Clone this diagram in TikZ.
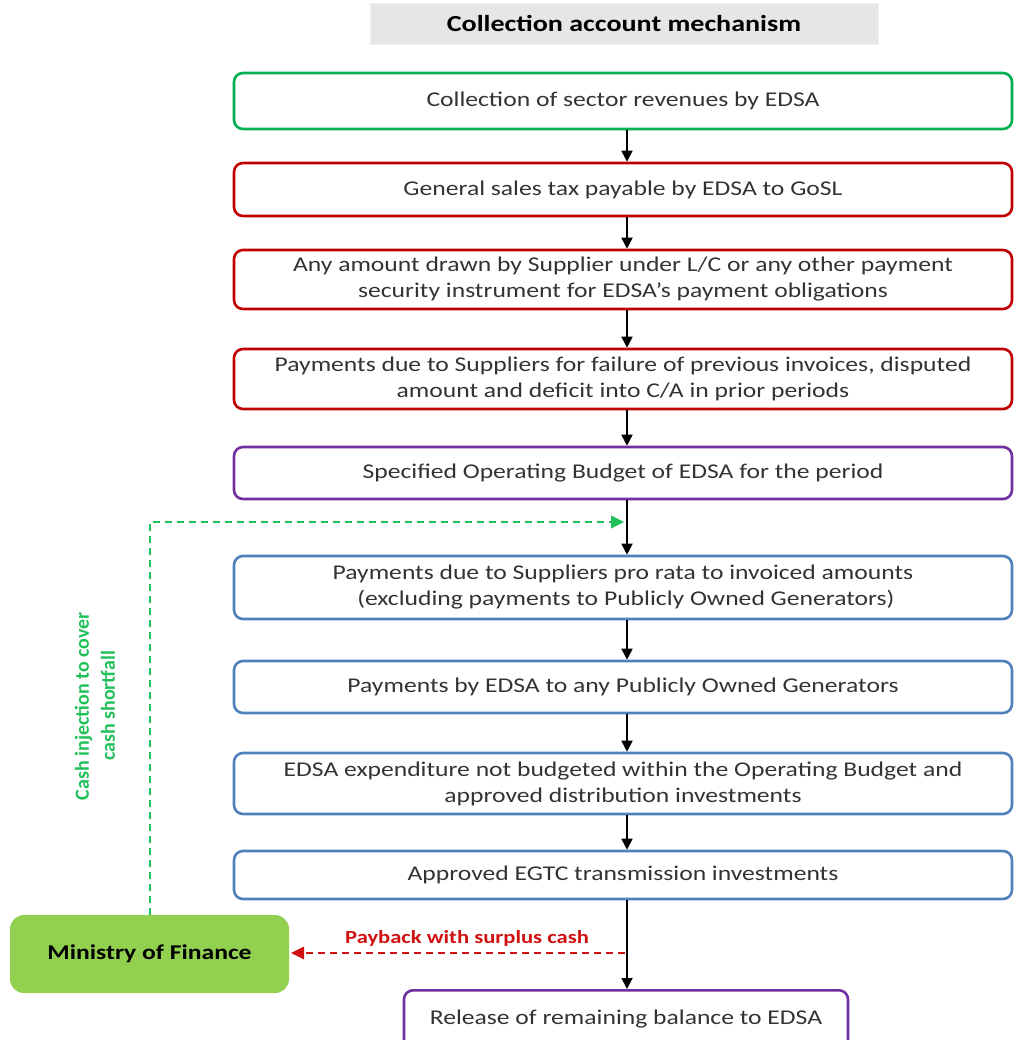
\documentclass[tikz,border=0pt]{standalone}
\usepackage{fontspec}
\setmainfont{Carlito}[FakeStretch=1.22]
\newfontfamily\plainfont{Carlito}
\usetikzlibrary{arrows.meta}
\definecolor{txt}{HTML}{333333}
\definecolor{cgreen}{HTML}{00B050}
\definecolor{cred}{HTML}{C00000}
\definecolor{cpurple}{HTML}{7030A0}
\definecolor{cblue}{HTML}{4F81BD}
\definecolor{mof}{HTML}{92D050}
\definecolor{ttl}{HTML}{E6E6E6}
\definecolor{dgreen}{HTML}{22C05A}
\definecolor{dred}{HTML}{D01010}
\begin{document}
\begin{tikzpicture}[x=1pt,y=-1pt,
  box/.style={draw, line width=2.6pt, rounded corners=9pt, align=center, text=txt,
    font=\fontsize{21}{26}\selectfont, inner sep=0pt, minimum width=778pt},
  flow/.style={line width=1.8pt, -{Triangle[width=11pt,length=11pt]}},
  dgr/.style={dgreen, line width=1.8pt, dash pattern=on 7pt off 5pt},
  drd/.style={dred, line width=1.8pt, dash pattern=on 7pt off 5pt}]
\useasboundingbox (0,0) rectangle (1014,1040);
\clip (0,0) rectangle (1014,1040);

\node[fill=ttl, draw=ttl!60, minimum width=508pt, minimum height=41pt, inner sep=0pt,
  font=\fontsize{23}{26}\bfseries\selectfont] (title) at (624,23.5) {Collection account mechanism};

\node[box, draw=cgreen, minimum height=56pt] (b1) at (623,101) {Collection of sector revenues by EDSA};
\node[box, draw=cred, minimum height=53pt] (b2) at (623,189.5) {General sales tax payable by EDSA to GoSL};
\node[box, draw=cred, minimum height=59pt] (b3) at (623,279.5) {Any amount drawn by Supplier under L/C or any other payment\\security instrument for EDSA’s payment obligations};
\node[box, draw=cred, minimum height=60pt] (b4) at (623,379) {Payments due to Suppliers for failure of previous invoices, disputed\\amount and deficit into C/A in prior periods};
\node[box, draw=cpurple, minimum height=52pt] (b5) at (623,473) {Specified Operating Budget of EDSA for the period};
\node[box, draw=cblue, minimum height=63pt] (b6) at (623,587.5) {Payments due to Suppliers pro rata to invoiced amounts\\\ (excluding payments to Publicly Owned Generators)};
\node[box, draw=cblue, minimum height=52pt] (b7) at (623,687) {Payments by EDSA to any Publicly Owned Generators};
\node[box, draw=cblue, minimum height=61pt] (b8) at (623,783.5) {EDSA expenditure not budgeted within the Operating Budget and\\approved distribution investments};
\node[box, draw=cblue, minimum height=48pt] (b9) at (623,875) {Approved EGTC transmission investments};
\node[box, draw=cpurple, minimum width=444pt, minimum height=58pt, anchor=north] (b10) at (626,989) {Release of remaining balance to EDSA};

\node[fill=mof, rounded corners=14pt, minimum width=279pt, minimum height=78pt, inner sep=0pt,
  font=\fontsize{21}{24}\bfseries\selectfont] (mof) at (149.5,954) {Ministry of Finance};

\coordinate (ax) at (627,0);
\foreach \a/\b in {b1/b2,b2/b3,b3/b4,b4/b5,b5/b6,b6/b7,b7/b8,b8/b9,b9/b10}
  \draw[flow] (\a.south -| ax) -- (\b.north -| ax);

\coordinate (inj) at (612,522);
\draw[dgr] (mof.north -| 150,0) -- (150,522) -- (inj);
\fill[dgreen] (inj) ++(12,0) -- ++(-13,-6.5) -- ++(0,13) -- cycle;

\coordinate (pb) at (625,953);
\draw[drd] (pb) -- ([xshift=14pt]mof.east |- pb);
\fill[dred] ([xshift=2pt]mof.east |- pb) -- ++(13,-6.5) -- ++(0,13) -- cycle;

\node[dred, font=\fontsize{18.5}{22}\bfseries\selectfont] (pblab) at (467,938) {Payback with surplus cash};
\node[dgreen, rotate=90, align=center, font=\plainfont\fontsize{20}{26}\bfseries\selectfont] (injlab) at (95,706) {Cash injection to cover\\cash shortfall};
\end{tikzpicture}
\end{document}
